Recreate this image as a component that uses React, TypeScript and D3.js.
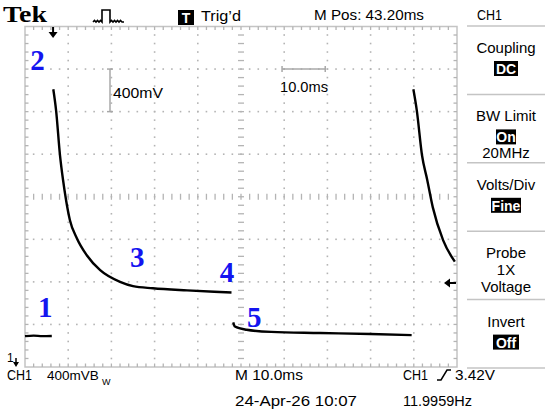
import * as d3 from "d3"

// time in ms (10 ms/div), CH1 in volts above the bottom graticule edge (400 mV/div)
const baseTime = [0, 2, 4, 6.2]
const baseVolts = [0.29, 0.295, 0.29, 0.292]

const pulse1Time = [6.55, 7.2, 8.1, 8.8, 9.5, 10.4, 12.0, 14.3, 17.4, 22.0, 25.0, 29.6, 37.5, 45.1, 47.8]
const pulse1Volts = [2.61, 2.41, 1.99, 1.76, 1.57, 1.38, 1.21, 1.05, 0.91, 0.8, 0.76, 0.74, 0.72, 0.705, 0.7]

const lowTime = [48.2, 48.6, 51.3, 57.0, 68.3, 80.0, 89.5]
const lowVolts = [0.42, 0.38, 0.35, 0.33, 0.32, 0.31, 0.3]

const pulse2Time = [89.9, 90.7, 91.9, 93.1, 94.4, 96.8, 99.5]
const pulse2Volts = [2.61, 2.41, 1.99, 1.76, 1.5, 1.19, 0.99]

const markerLabels = ["1", "2", "3", "4", "5"]
const markerTime = [3.0, 1.2, 24.3, 45.1, 51.4]
const markerVolts = [0.47, 2.79, 0.94, 0.8, 0.376]

const menuTitles = ["Coupling", "BW Limit", "Volts/Div", "Probe", "Invert"]
const menuValues = ["DC", "On", "Fine", "1X", "Off"]
const menuExtra = ["", "20MHz", "", "Voltage", ""]

const W = 550
const H = 419
const LEFT = 25
const RIGHT = 457
const TOP = 26.5
const BOTTOM = 367

const SANS = "'Liberation Sans Narrow', 'Liberation Sans', Arial, sans-serif"
const GRID = "#b4b4b4"

const x = d3.scaleLinear().domain([0, 100]).range([LEFT, RIGHT])
const y = d3.scaleLinear().domain([0, 3.2]).range([BOTTOM, TOP])

const zip = (t: number[], v: number[]) => t.map((d, i) => [d, v[i]] as [number, number])
const segments = [
  zip(baseTime, baseVolts),
  zip(pulse1Time, pulse1Volts),
  zip(lowTime, lowVolts),
  zip(pulse2Time, pulse2Volts),
]

const line = d3
  .line<[number, number]>()
  .x((d) => x(d[0]))
  .y((d) => y(d[1]))
  .curve(d3.curveMonotoneX)

function Graticule() {
  const majorX = d3.range(10, 100, 10)
  const majorY = d3.range(0.4, 3.2, 0.4)
  const minorX = d3.range(2, 100, 2)
  const minorY = d3.range(0.08, 3.2, 0.08)
  const dots: JSX.Element[] = []

  majorX.forEach((t) => {
    if (t === 50) return
    minorY.forEach((v, i) =>
      dots.push(<rect key={`vx${t}-${i}`} x={x(t) - 0.8} y={y(v) - 0.8} width={1.6} height={1.6} fill={GRID} />)
    )
  })
  majorY.forEach((v) => {
    if (Math.abs(v - 1.6) < 0.01) return
    minorX.forEach((t, i) =>
      dots.push(<rect key={`hy${v}-${i}`} x={x(t) - 0.8} y={y(v) - 0.8} width={1.6} height={1.6} fill={GRID} />)
    )
  })

  const ticks: JSX.Element[] = []
  // centre crosshair
  minorY.forEach((v, i) =>
    ticks.push(<line key={`cy${i}`} x1={x(50) - 3} x2={x(50) + 3} y1={y(v)} y2={y(v)} stroke={GRID} strokeWidth={1.3} />)
  )
  minorX.forEach((t, i) =>
    ticks.push(<line key={`cx${i}`} x1={x(t)} x2={x(t)} y1={y(1.6) - 3} y2={y(1.6) + 3} stroke={GRID} strokeWidth={1.3} />)
  )
  // edge ticks
  minorX.forEach((t, i) => {
    ticks.push(<line key={`tt${i}`} x1={x(t)} x2={x(t)} y1={TOP} y2={TOP + 3.5} stroke={GRID} strokeWidth={1.3} />)
    ticks.push(<line key={`tb${i}`} x1={x(t)} x2={x(t)} y1={BOTTOM} y2={BOTTOM - 3.5} stroke={GRID} strokeWidth={1.3} />)
  })
  minorY.forEach((v, i) => {
    ticks.push(<line key={`tl${i}`} x1={LEFT} x2={LEFT + 3.5} y1={y(v)} y2={y(v)} stroke={GRID} strokeWidth={1.3} />)
    ticks.push(<line key={`tr${i}`} x1={RIGHT} x2={RIGHT - 3.5} y1={y(v)} y2={y(v)} stroke={GRID} strokeWidth={1.3} />)
  })

  return (
    <g>
      <rect x={LEFT} y={TOP} width={RIGHT - LEFT} height={BOTTOM - TOP} fill="none" stroke="#c4c4c4" strokeWidth={1.5} />
      {dots}
      {ticks}
    </g>
  )
}

function Menu() {
  const top = 26
  const step = 68.4
  const cx = 506
  const boxW = [24, 20, 30, 0, 26]
  return (
    <g fontFamily={SANS} fontSize={15} textAnchor="middle" fill="#000">
      {d3.range(6).map((i) => (
        <line key={i} x1={467} x2={545} y1={top + i * step} y2={top + i * step} stroke="#c4c4c4" strokeWidth={1.5} />
      ))}
      {menuTitles.map((title, i) => {
        const y0 = top + i * step
        const boxed = boxW[i] > 0
        return (
          <g key={title}>
            <text x={cx} y={y0 + 27}>{title}</text>
            {boxed ? (
              <>
                <rect x={cx - boxW[i] / 2} y={y0 + 35} width={boxW[i]} height={15} fill="#000" />
                <text x={cx} y={y0 + 48} fill="#fff" fontWeight="bold" fontSize={14}>{menuValues[i]}</text>
              </>
            ) : (
              <text x={cx} y={y0 + 44}>{menuValues[i]}</text>
            )}
            {menuExtra[i] ? <text x={cx} y={y0 + (boxed ? 64 : 61)}>{menuExtra[i]}</text> : null}
          </g>
        )
      })}
    </g>
  )
}

export default function App() {
  return (
    <div style={{ position: "absolute", left: 0, top: 0 }}>
      <svg width={W} height={H} viewBox={`0 0 ${W} ${H}`} style={{ display: "block", background: "#fff" }}>
        <Graticule />

        {/* header */}
        <text x={3} y={22} fontFamily="'Liberation Serif', serif" fontWeight="bold" fontSize={24} textLength={44} lengthAdjust="spacingAndGlyphs">Tek</text>
        <path
          d="M93,22 l1.5,-1.5 l1.5,1.5 l1.5,-1.5 l1.5,1.5 l1.5,-1.5 l1.5,1.5 L102,22 L102,10 L110,10 L110,22 l1.5,-1.5 l1.5,1.5 l1.5,-1.5 l1.5,1.5 l1.5,-1.5 l1.5,1.5 l1.5,-1.5 l1.5,1.5 L124,22"
          fill="none" stroke="#000" strokeWidth={1.6}
        />
        <rect x={178} y={10} width={16} height={15} fill="#000" />
        <text x={186} y={23} textAnchor="middle" fill="#fff" fontFamily={SANS} fontWeight="bold" fontSize={14}>T</text>
        <text x={201} y={21} fontFamily={SANS} fontSize={15} textLength={40} lengthAdjust="spacingAndGlyphs">Trig’d</text>
        <text x={314} y={20} fontFamily={SANS} fontSize={15} textLength={110} lengthAdjust="spacingAndGlyphs">M Pos: 43.20ms</text>
        <text x={477} y={20} fontFamily={SANS} fontSize={15} textLength={25} lengthAdjust="spacingAndGlyphs">CH1</text>

        <Menu />

        {/* scale bars */}
        <g stroke="#a8a8a8" strokeWidth={1.5}>
          <line x1={110} x2={110} y1={y(2.8)} y2={y(2.4)} />
          <line x1={107} x2={113} y1={y(2.8)} y2={y(2.8)} />
          <line x1={107} x2={113} y1={y(2.4)} y2={y(2.4)} />
          <line x1={x(59.5)} x2={x(69.5)} y1={y(2.8)} y2={y(2.8)} />
          <line x1={x(59.5)} x2={x(59.5)} y1={y(2.8) - 3} y2={y(2.8) + 3} />
          <line x1={x(69.5)} x2={x(69.5)} y1={y(2.8) - 3} y2={y(2.8) + 3} />
        </g>
        <text x={113} y={98} fontFamily={SANS} fontSize={15} textLength={50} lengthAdjust="spacingAndGlyphs">400mV</text>
        <text x={280} y={92} fontFamily={SANS} fontSize={15} textLength={48} lengthAdjust="spacingAndGlyphs">10.0ms</text>

        {/* trace */}
        {segments.map((seg, i) => (
          <path key={i} d={line(seg) ?? ""} fill="none" stroke="#000" strokeWidth={2.4} strokeLinejoin="round" />
        ))}

        {/* markers */}
        <path d={`M${x(6.5)},27 L${x(6.5)},33`} stroke="#000" strokeWidth={2} />
        <path d={`M${x(6.5) - 4.5},32 L${x(6.5) + 4.5},32 L${x(6.5)},38 Z`} fill="#000" />
        <path d="M449,283 L456,283" stroke="#000" strokeWidth={2} />
        <path d="M450,278.5 L450,287.5 L444,283 Z" fill="#000" />
        <text x={7} y={362} fontFamily={SANS} fontSize={12}>1</text>
        <path d="M16,358 L16,363" stroke="#000" strokeWidth={1.5} />
        <path d="M13,362 L19,362 L16,367 Z" fill="#000" />

        {markerLabels.map((label, i) => (
          <text
            key={label}
            x={x(markerTime[i])}
            y={y(markerVolts[i])}
            fontFamily="'Liberation Serif', serif"
            fontWeight="bold"
            fontSize={29}
            fill="#1414f0"
          >
            {label}
          </text>
        ))}

        {/* footer */}
        <g fontFamily={SANS} fontSize={15}>
          <text x={7} y={380} textLength={25} lengthAdjust="spacingAndGlyphs">CH1</text>
          <text x={47} y={380} fontSize={13.5}>400mVB</text>
          <text x={102} y={385} fontSize={9}>W</text>
          <text x={235} y={380} textLength={68} lengthAdjust="spacingAndGlyphs">M 10.0ms</text>
          <text x={235} y={406} textLength={122} lengthAdjust="spacingAndGlyphs">24-Apr-26 10:07</text>
          <text x={403} y={380} textLength={25} lengthAdjust="spacingAndGlyphs">CH1</text>
          <path d="M437,380 L441,380 L447,370 L451,370" fill="none" stroke="#000" strokeWidth={1.5} />
          <text x={455} y={380} textLength={40} lengthAdjust="spacingAndGlyphs">3.42V</text>
          <text x={403} y={406} textLength={69} lengthAdjust="spacingAndGlyphs">11.9959Hz</text>
        </g>
      </svg>
    </div>
  )
}
